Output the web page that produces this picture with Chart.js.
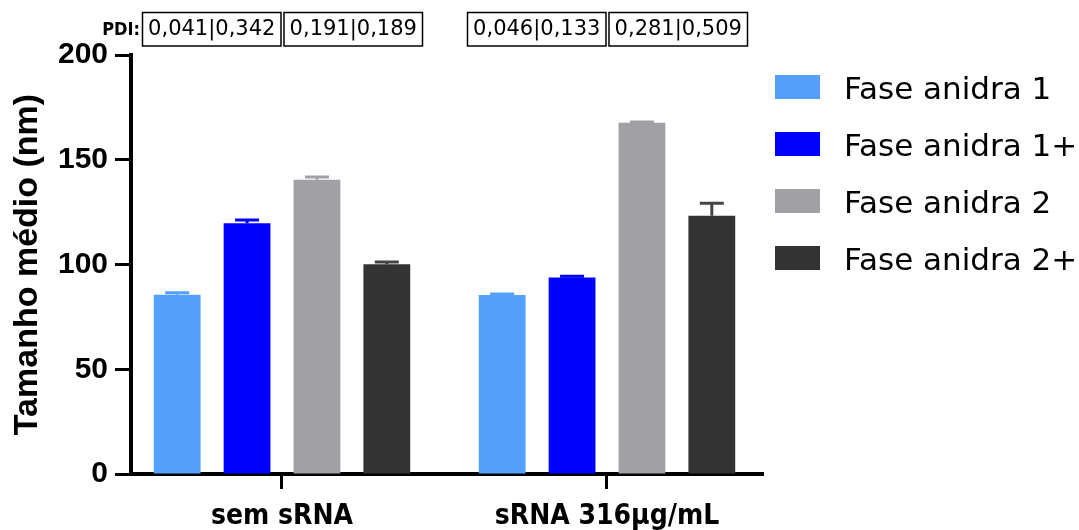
<!DOCTYPE html>
<html>
<head>
<meta charset="utf-8">
<script src="https://cdn.jsdelivr.net/npm/chart.js@4"></script>
<style>
  body { margin: 0; background: #fff; }
  #wrap { width: 1079px; height: 530px; position: relative; }
</style>
</head>
<body>
<div id="wrap"><canvas id="chart"></canvas></div>
<script>
const categories = ["sem sRNA", "sRNA 316µg/mL"];
const seriesLabels = ["Fase anidra 1", "Fase anidra 1+", "Fase anidra 2", "Fase anidra 2+"];

const fase1 = [85.6, 85.4];
const fase1Plus = [119.7, 93.8];
const fase2 = [140.4, 167.7];
const fase2Plus = [100.1, 123.3];

// upper error bars (SD)
const fase1Err = [0.9, 0.5];
const fase1PlusErr = [1.5, 0.6];
const fase2Err = [1.4, 0.3];
const fase2PlusErr = [1.1, 5.9];

// PDI per category, one box per pair of series
const pdiLabels = [
  ["0,041|0,342", "0,191|0,189"],
  ["0,046|0,133", "0,281|0,509"],
];

const yTicks = [0, 50, 100, 150, 200];

const colors = ["#55a0fc", "#0000ff", "#a1a1a5", "#333333"];
const errColors = ["#55a0fc", "#0000ff", "#a1a1a5", "#444444"];

const values = [fase1, fase1Plus, fase2, fase2Plus];
const errors = [fase1Err, fase1PlusErr, fase2Err, fase2PlusErr];

const datasets = seriesLabels.map((label, i) => ({
  label: label,
  data: values[i].map((v, j) => ({ x: j, y: v })),
  err: errors[i],
  backgroundColor: colors[i],
  errColor: errColors[i],
  borderWidth: 0,
  categoryPercentage: 0.86,
  barPercentage: 0.67,
}));

const errorBars = {
  id: "errorBars",
  afterDatasetsDraw(chart) {
    const ctx = chart.ctx;
    const y = chart.scales.y;
    chart.data.datasets.forEach((ds, i) => {
      const meta = chart.getDatasetMeta(i);
      meta.data.forEach((bar, j) => {
        const top = y.getPixelForValue(ds.data[j].y + ds.err[j]);
        ctx.save();
        ctx.strokeStyle = ds.errColor;
        ctx.lineWidth = 3;
        ctx.beginPath();
        ctx.moveTo(bar.x, bar.y);
        ctx.lineTo(bar.x, top);
        ctx.moveTo(bar.x - 12, top);
        ctx.lineTo(bar.x + 12, top);
        ctx.stroke();
        ctx.restore();
      });
    });
  },
};

const pdiBoxes = {
  id: "pdiBoxes",
  afterDraw(chart) {
    const ctx = chart.ctx;
    const x = chart.scales.x;
    ctx.save();
    ctx.fillStyle = "#000";
    ctx.strokeStyle = "#000";
    ctx.lineWidth = 1.5;
    ctx.font = "bold 18px 'DejaVu Sans Condensed'";
    ctx.textAlign = "right";
    ctx.textBaseline = "middle";
    ctx.fillText("PDI:", 140, 30);
    ctx.font = "21px 'DejaVu Sans'";
    ctx.textAlign = "center";
    categories.forEach((c, i) => {
      const cx = x.getPixelForValue(i);
      const boxes = [[cx - 139.5, cx - 1], [cx + 2, cx + 140.5]];
      boxes.forEach((b, k) => {
        ctx.strokeRect(b[0], 12.5, b[1] - b[0], 33.5);
        ctx.fillText(pdiLabels[i][k], (b[0] + b[1]) / 2, 30);
      });
    });
    ctx.restore();
  },
};

const sideLegend = {
  id: "sideLegend",
  afterDraw(chart) {
    const ctx = chart.ctx;
    ctx.save();
    ctx.font = "31px 'DejaVu Sans'";
    ctx.textAlign = "left";
    ctx.textBaseline = "alphabetic";
    chart.data.datasets.forEach((ds, i) => {
      const top = 75 + i * 57;
      ctx.fillStyle = ds.backgroundColor;
      ctx.fillRect(775, top, 45, 24);
      ctx.fillStyle = "#000";
      ctx.fillText(ds.label, 844, top + 23.5);
    });
    ctx.restore();
  },
};

new Chart(document.getElementById("chart"), {
  type: "bar",
  data: { datasets: datasets },
  plugins: [errorBars, pdiBoxes, sideLegend],
  options: {
    responsive: true,
    maintainAspectRatio: false,
    animation: false,
    layout: { padding: { top: 55, right: 316, left: 0, bottom: 0 } },
    plugins: {
      legend: { display: false },
      tooltip: { enabled: false },
    },
    scales: {
      x: {
        type: "linear",
        min: -0.4646,
        max: 1.48,
        offset: false,
        afterBuildTicks: (scale) => {
          scale.ticks = categories.map((c, i) => ({ value: i }));
        },
        afterFit: (scale) => {
          scale.height = 56;
        },
        ticks: {
          callback: (v) => categories[v],
          color: "#000",
          padding: 11,
          maxRotation: 0,
          autoSkip: false,
          font: { family: "'DejaVu Sans Condensed'", weight: "bold", size: 28 },
        },
        grid: {
          offset: false,
          drawOnChartArea: false,
          drawTicks: true,
          tickLength: 15,
          tickColor: "#000",
          tickWidth: 3,
        },
        border: { display: true, color: "#000", width: 4 },
      },
      y: {
        min: 0,
        max: 200,
        afterBuildTicks: (scale) => {
          scale.ticks = yTicks.map((v) => ({ value: v }));
        },
        afterFit: (scale) => {
          scale.width = 131;
        },
        ticks: {
          color: "#000",
          padding: 7,
          font: { family: "'Liberation Sans'", weight: "bold", size: 30 },
        },
        grid: {
          drawOnChartArea: false,
          drawTicks: true,
          tickLength: 16,
          tickColor: "#000",
          tickWidth: 3,
        },
        border: { display: true, color: "#000", width: 4 },
        title: {
          display: true,
          text: "Tamanho médio (nm)",
          color: "#000",
          padding: { top: 7, bottom: 0 },
          font: { family: "'Liberation Sans'", weight: "bold", size: 34 },
        },
      },
    },
  },
});
</script>
</body>
</html>
